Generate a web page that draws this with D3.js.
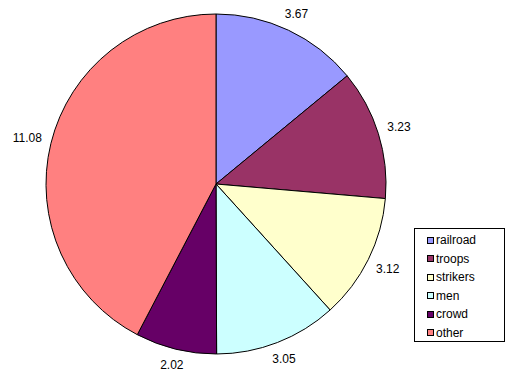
<!DOCTYPE html>
<html><head><meta charset="utf-8">
<script src="https://cdn.jsdelivr.net/npm/d3@7"></script>
<style>body{margin:0;background:#fff}svg{display:block}text{font-family:"Liberation Sans",Arial,sans-serif}</style>
</head><body><svg id="c" width="519" height="390"></svg>
<script>
const categories = ["railroad","troops","strikers","men","crowd","other"];
const values = [3.67,3.23,3.12,3.05,2.02,11.08];
const labels = ["3.67","3.23","3.12","3.05","2.02","11.08"];
const colors = ["#9999FF","#993366","#FFFFCC","#CCFFFF","#660066","#FF8080"];

const svg = d3.select("#c");
const cx = 216, cy = 184, R = 170;
const pie = d3.pie().sort(null).startAngle(0).endAngle(2*Math.PI);
const arcs = pie(values);
const arc = d3.arc().innerRadius(0).outerRadius(R);
const g = svg.append("g").attr("transform", `translate(${cx},${cy})`);
g.selectAll("path").data(arcs).join("path")
  .attr("d", arc).attr("fill", (d,i)=>colors[i])
  .attr("stroke", "#000").attr("stroke-width", 1);

const fs = 12;
g.selectAll("text.lbl").data(arcs).join("text").attr("class","lbl")
  .attr("font-size", fs).attr("fill","#000")
  .attr("text-anchor","middle").attr("dominant-baseline","central")
  .text((d,i)=>labels[i])
  .each(function(d){
    const a = (d.startAngle+d.endAngle)/2;
    const w = this.getComputedTextLength();
    const s = Math.sin(a), c = Math.cos(a);
    const r = R + 9 + Math.abs(s)*w/2 + Math.abs(c)*5;
    d3.select(this).attr("x", r*s).attr("y", -r*c);
  });

// legend
const lx = 414, ly = 228, lw = 90, lh = 113;
svg.append("rect").attr("x",lx+0.5).attr("y",ly+0.5).attr("width",lw).attr("height",lh)
  .attr("fill","#fff").attr("stroke","#000");
const rowY = d3.scalePoint().domain(categories).range([ly+12, ly+104.5]);
const lg = svg.append("g");
categories.forEach((c,i)=>{
  const y = rowY(c);
  lg.append("rect").attr("x",lx+13.5).attr("y",Math.round(y-3.5)+0.5).attr("width",6).attr("height",6)
    .attr("fill",colors[i]).attr("stroke","#000");
  lg.append("text").attr("x",lx+22).attr("y",y).attr("dominant-baseline","central")
    .attr("font-size",12).text(c);
});
</script></body></html>
